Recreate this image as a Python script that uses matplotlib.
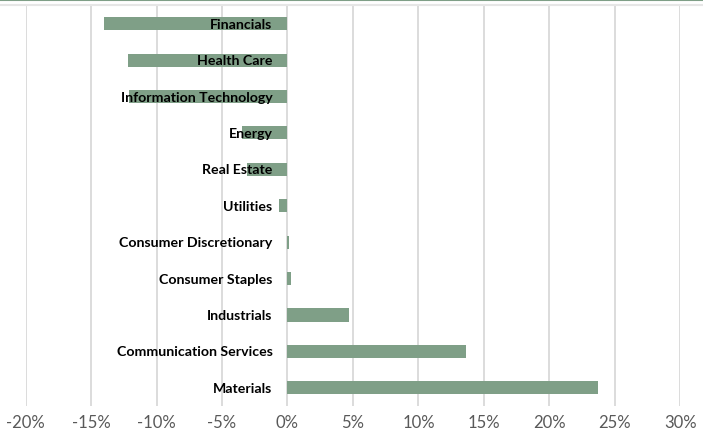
import matplotlib.pyplot as plt
from matplotlib.lines import Line2D
from matplotlib.ticker import FuncFormatter, MultipleLocator

# sector returns, %
sectors = ["Financials", "Health Care", "Information Technology", "Energy", "Real Estate",
           "Utilities", "Consumer Discretionary", "Consumer Staples", "Industrials",
           "Communication Services", "Materials"]
returns = [-14.0, -12.2, -12.1, -3.5, -3.1, -0.65, 0.1, 0.3, 4.7, 13.6, 23.7]

BAR_COLOR = "#7f9f87"
GRID_COLOR = "#d9d9d9"
TICK_COLOR = "#595959"

plt.rcParams['font.family'] = ['Lato', 'DejaVu Sans']

fig = plt.figure(figsize=(7.03, 4.39), dpi=100)
ax = fig.add_axes([25.6 / 703, 1 - 407 / 439, (680.3 - 25.6) / 703, (407 - 6.5) / 439])

y = range(len(sectors))
ax.barh(y, returns, height=0.36, color=BAR_COLOR, zorder=2)

# category labels sit next to the zero axis, drawn over the bars
for i, name in enumerate(sectors):
    ax.annotate(name, xy=(0, i), xytext=(-15, 0), textcoords='offset pixels',
                ha='right', va='center', fontsize=10.2, fontweight='bold', color='black', zorder=5)

ax.set_xlim(-20, 30)
ax.set_ylim(len(sectors) - 0.5, -0.5)
ax.xaxis.set_major_locator(MultipleLocator(5))
ax.xaxis.set_major_formatter(FuncFormatter(lambda v, _: f"{v:.0f}%"))
ax.tick_params(axis='x', length=0, labelsize=12, colors=TICK_COLOR, pad=6)
ax.set_yticks([])
ax.grid(axis='x', color=GRID_COLOR, linewidth=1.3, zorder=0)
ax.set_axisbelow(True)
for s in ax.spines.values():
    s.set_visible(False)

# thin green rule at the very top and the light grey line under it
fig.add_artist(Line2D([0, 1], [1 - 0.5 / 439, 1 - 0.5 / 439], color=BAR_COLOR, linewidth=1.5))
fig.add_artist(Line2D([0, 1], [1 - 6 / 439, 1 - 6 / 439], color="#e6e6e6", linewidth=1.5))

fig.savefig("out.png", dpi=100)
